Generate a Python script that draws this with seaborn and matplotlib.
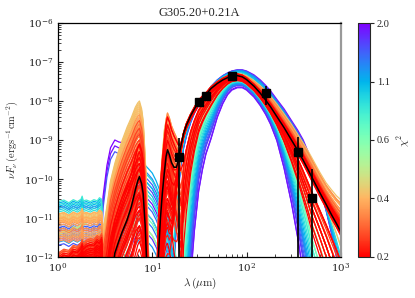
import numpy as np
import pandas as pd
import matplotlib
matplotlib.use("Agg")
import matplotlib.pyplot as plt
import seaborn as sns
from matplotlib.colors import LogNorm
from matplotlib.cm import ScalarMappable

# ---------------- wavelength grid (micron) ----------------
lam_near = [1.0, 1.15, 1.3, 1.45, 1.6, 1.75, 1.8, 1.85, 2.0, 2.2, 2.4, 2.6, 2.75, 2.9]
lam_mid = [3.0, 3.3, 3.6, 4.0, 4.4, 4.8, 5.4, 6.0, 6.6, 7.0, 7.3, 7.7, 8.0, 8.4, 8.8, 9.2,
           10.0, 11.0, 11.6, 12.2, 12.8, 13.4, 14.0, 14.5, 15.2, 16.0, 17.0, 18.0, 19.0,
           20.0, 21.5, 23.0, 25.5, 28.0]
lam_far = [31, 34, 37, 42, 49, 56, 63, 70, 80, 90, 100, 120, 140, 160, 180, 210, 250, 300,
           350, 400, 450, 500, 600, 700, 800, 900, 1000]

# ---------------- model SED templates (log10 nuFnu) ----------------
near_flat = [0.0, 0.04, -0.03, 0.05, 0.0, 0.06, 0.14, 0.02, 0.04, 0.0, 0.05, 0.02, 0.1, 0.06]
near_rise = [-0.45, -0.35, -0.38, -0.25, -0.28, -0.18, -0.1, -0.2, -0.12, -0.08, -0.1, 0.0, -0.05, 0.05]

warm_A1 = [-3.3, -2.7, -2.05, -1.6, -1.27, -1.0, -0.67, -0.42, -0.16, -0.05,
           0.0, -0.2, -0.5, -1.44, -2.5, -4.2, -6.0, -5.0, -3.3, -2.3,
           -1.4, -0.75, -0.5, -0.45, -0.65, -0.95, -1.5, -1.85, -2.2, -2.6,
           -3.1, -3.6, -4.4, -5.2]
warm_A2 = [-3.6, -3.1, -2.6, -1.96, -1.65, -1.38, -1.1, -0.75, -0.34, -0.1,
           0.0, -0.18, -0.44, -1.26, -2.5, -3.6, -5.5, -4.0, -2.0, -1.06,
           -0.41, 0.09, 0.52, 0.69, 0.56, 0.36, 0.2, 0.05, -0.2, -0.5,
           -1.0, -1.5, -2.3, -3.0]
warm_B = [-2.6, -2.2, -1.85, -1.5, -1.2, -0.95, -0.65, -0.4, -0.2, -0.1,
          -0.05, 0.0, 0.0, -0.05, -0.1, -0.15, -0.25, -0.45, -0.6, -0.75,
          -0.9, -1.05, -1.2, -1.35, -1.55, -1.8, -2.1, -2.4, -2.7, -3.0,
          -3.4, -3.8, -4.4, -5.0]
warm_C = [-2.0, -1.2, -0.75, -0.55, -0.6, -0.62, -0.6, -0.45, -0.15, -0.03,
          0.0, -0.2, -0.5, -1.44, -2.5, -4.2, -6.0, -5.0, -3.3, -2.3,
          -1.4, -0.75, -0.5, -0.45, -0.65, -0.95, -1.5, -1.85, -2.2, -2.6,
          -3.1, -3.6, -4.4, -5.2]

# cold dust templates from 14 micron to 1000 micron
cold_main = [-13.5, -13.0, -12.3, -11.6, -10.9, -10.2, -9.65, -9.25, -8.85, -8.62, -8.38, -8.2,
             -8.02, -7.92, -7.84, -7.68, -7.55, -7.46, -7.40, -7.36, -7.35, -7.38,
             -7.45, -7.62, -7.8, -7.98, -8.15, -8.4, -8.68, -9.0, -9.27, -9.52,
             -9.76, -9.98, -10.35, -10.65, -10.92, -11.14, -11.35]
cold_narrow = [-30, -30, -30, -30, -30, -30, -30, -30, -17, -15, -12.6, -11.3,
               -10.3, -9.75, -9.35, -8.95, -8.4, -8.05, -7.82, -7.7, -7.64, -7.64,
               -7.7, -7.88, -8.1, -8.33, -8.58, -9.0, -9.7, -10.6, -11.5, -12.4,
               -13.2, -14, -15, -16, -17, -18, -19]
cold_broad = [-30, -30, -30, -14, -12.5, -11.2, -10.3, -9.7, -9.2, -8.9, -8.55, -8.3,
              -8.1, -7.95, -7.83, -7.63, -7.46, -7.35, -7.28, -7.23, -7.2, -7.2,
              -7.23, -7.33, -7.46, -7.6, -7.74, -7.96, -8.2, -8.5, -8.75, -9.0,
              -9.3, -9.6, -10.2, -10.8, -11.4, -12.0, -12.6]
cold_shallow = [-14, -13.3, -12.5, -11.8, -11.0, -10.3, -9.75, -9.35, -8.95, -8.7, -8.45, -8.25,
                -8.06, -7.95, -7.86, -7.69, -7.55, -7.45, -7.39, -7.35, -7.33, -7.34,
                -7.38, -7.5, -7.63, -7.76, -7.9, -8.1, -8.35, -8.62, -8.88, -9.1,
                -9.3, -9.5, -9.85, -10.12, -10.3, -10.45, -10.55]

# models: (chi2, near-IR level, warm template, warm level, cold template, mix, cold shift)
purple_models = [
    (2.0, -11.6, 3, -8.45, 2, 1.0, 0.0), (1.9, -10.75, 3, -8.6, 1, 1.0, 0.0),
    (1.85, -11.45, 2, -10.4, 1, 1.0, -0.02), (1.75, -11.3, 2, -10.8, 1, 0.9, 0.02),
    (1.7, -11.55, 2, -11.3, 2, 0.95, -0.02), (1.6, -11.35, 2, -10.1, 1, 0.85, 0.0),
    (1.55, -11.7, 3, -8.75, 2, 0.9, 0.01),
]
blue_models = [
    (1.5, -11.25, 2, -9.9, 1, 0.8, 0.0), (1.45, -11.4, 2, -10.6, 1, 0.75, 0.01),
    (1.4, -11.2, 2, -11.0, 2, 0.85, 0.0), (1.35, -11.5, 2, -10.3, 1, 0.7, -0.02),
    (1.3, -11.3, 2, -9.75, 2, 0.7, 0.0), (1.25, -11.45, 2, -11.5, 1, 0.7, 0.02),
    (1.2, -11.62, 2, -10.0, 1, 0.65, 0.0),
]
cyan_models = [
    (1.15, -10.62, 2, -9.6, 2, 0.8, 0.0), (1.1, -10.7, 2, -10.0, 1, 0.6, 0.0),
    (1.05, -10.75, 2, -10.2, 2, 0.6, 0.01), (1.0, -10.8, 2, -10.5, 1, 0.55, 0.0),
    (0.95, -10.66, 2, -9.8, 2, 0.5, 0.0), (0.9, -10.85, 2, -10.8, 1, 0.5, -0.01),
    (0.85, -10.58, 2, -11.2, 1, 0.45, 0.0),
]
green_models = [
    (0.8, -11.7, 2, -10.3, 1, 0.45, 0.0), (0.72, -11.85, 0, -10.2, 1, 0.4, 0.0),
    (0.66, -11.6, 2, -10.9, 1, 0.4, 0.01), (0.6, -11.9, 0, -9.8, 2, 0.3, 0.0),
    (0.55, -11.0, 0, -9.2, 1, 0.3, 0.0), (0.5, -12.0, 2, -11.2, 1, 0.3, -0.01),
    (0.45, -10.97, 0, -8.9, 3, 0.5, 0.0),
]
orange_models = [
    (0.38, -10.9, 0, -8.0, 3, 1.0, 0.02), (0.378, -10.95, 0, -8.05, 1, 0.2, 0.0),
    (0.375, -11.0, 0, -8.15, 3, 0.9, 0.0), (0.372, -11.05, 0, -8.25, 3, 0.8, 0.03),
    (0.37, -10.92, 0, -8.3, 2, 0.3, 0.0), (0.36, -11.1, 0, -8.4, 3, 0.9, -0.02),
    (0.35, -11.4, 0, -8.45, 3, 0.7, 0.0), (0.345, -11.02, 1, -9.2, 1, 0.2, 0.0),
    (0.34, -11.5, 0, -8.6, 3, 0.8, 0.02), (0.335, -11.08, 0, -8.7, 3, 0.6, 0.0),
    (0.33, -11.6, 1, -9.4, 3, 0.5, -0.02), (0.325, -11.5, 0, -8.8, 3, 0.7, 0.0),
    (0.32, -11.15, 0, -8.35, 0, 0.0, 0.04), (0.31, -11.3, 1, -9.0, 3, 0.9, 0.01),
    (0.376, -10.98, 0, -8.1, 3, 0.6, 0.0), (0.368, -11.03, 0, -8.2, 1, 0.15, 0.01),
    (0.355, -10.9, 1, -9.0, 3, 0.85, 0.0), (0.348, -11.12, 0, -8.5, 3, 0.5, 0.02),
    (0.338, -11.45, 0, -8.55, 0, 0.0, 0.02), (0.33, -11.2, 1, -9.15, 1, 0.25, 0.0),
    (0.32, -11.55, 0, -8.65, 3, 0.4, -0.01), (0.305, -11.35, 0, -8.75, 3, 0.6, 0.01),
]
redorange_models = [
    (0.295, -11.5, 0, -8.6, 0, 0.0, 0.03), (0.29, -11.6, 0, -8.9, 3, 0.5, 0.0),
    (0.287, -11.7, 1, -9.3, 1, 0.15, 0.0), (0.283, -11.55, 0, -9.0, 3, 0.4, 0.02),
    (0.28, -11.8, 0, -9.2, 0, 0.0, -0.03), (0.277, -11.65, 1, -9.5, 3, 0.6, 0.0),
    (0.273, -11.75, 0, -8.8, 1, 0.2, 0.0), (0.27, -11.9, 1, -9.8, 3, 0.3, 0.01),
    (0.267, -11.6, 0, -9.4, 0, 0.0, 0.04), (0.263, -12.0, 1, -10.0, 3, 0.5, -0.02),
    (0.26, -11.7, 0, -9.6, 1, 0.1, 0.0), (0.257, -11.85, 1, -10.2, 0, 0.0, 0.0),
    (0.255, -11.45, 0, -8.5, 3, 0.3, 0.0), (0.252, -12.1, 1, -10.5, 1, 0.3, -0.03),
    (0.293, -11.62, 1, -9.25, 3, 0.45, 0.0), (0.285, -11.48, 0, -8.7, 1, 0.15, 0.02),
    (0.278, -11.72, 1, -9.6, 0, 0.0, 0.03), (0.272, -11.55, 0, -9.1, 3, 0.35, -0.01),
    (0.265, -11.92, 1, -9.9, 1, 0.2, 0.0), (0.258, -11.8, 0, -9.3, 3, 0.25, 0.0),
    (0.25, -12.02, 1, -10.35, 0, 0.0, -0.02),
]
red_models = [
    (0.245, -11.5, 0, -8.7, 0, 0.0, 0.02), (0.24, -11.8, 1, -9.6, 3, 0.3, 0.0),
    (0.24, -11.9, 0, -9.0, 1, 0.15, 0.0), (0.245, -11.6, 1, -9.9, 0, 0.0, -0.04),
    (0.245, -12.0, 0, -9.3, 3, 0.2, 0.02), (0.24, -11.7, 1, -10.3, 1, 0.1, 0.0),
    (0.24, -12.1, 0, -9.6, 0, 0.0, 0.05), (0.235, -11.95, 1, -10.6, 3, 0.4, -0.02),
    (0.235, -11.75, 0, -9.9, 0, 0.0, -0.06), (0.23, -12.2, 1, -11.0, 1, 0.2, 0.0),
    (0.23, -11.85, 0, -10.2, 0, 0.0, 0.03), (0.225, -12.3, 1, -11.4, 3, 0.2, 0.0),
    (0.225, -11.65, 0, -10.6, 0, 0.0, -0.02), (0.22, -12.05, 1, -11.8, 1, 0.1, 0.02),
    (0.22, -12.4, 0, -11.0, 0, 0.0, 0.0), (0.215, -11.8, 1, -10.8, 0, 0.0, 0.01),
    (0.215, -12.15, 0, -11.5, 3, 0.1, -0.01), (0.21, -11.9, 1, -9.1, 0, 0.0, 0.0),
    (0.21, -11.55, 0, -9.15, 1, 0.25, 0.0), (0.21, -12.0, 1, -9.45, 0, 0.0, -0.05),
    (0.205, -11.7, 0, -9.45, 3, 0.2, 0.01), (0.205, -12.25, 1, -10.05, 1, 0.3, -0.04),
    (0.2, -11.6, 0, -9.75, 0, 0.0, 0.0), (0.2, -12.35, 1, -10.45, 0, 0.0, 0.02),
    (0.2, -11.95, 0, -10.4, 1, 0.15, -0.02), (0.2, -11.75, 1, -9.1, 3, 0.15, 0.0),
    (0.2, -12.5, 0, -10.8, 0, 0.0, -0.08), (0.2, -11.85, 1, -11.2, 3, 0.3, 0.0),
    (0.242, -11.6, 1, -9.35, 0, 0.0, 0.01), (0.238, -11.72, 0, -8.85, 3, 0.25, 0.0),
    (0.243, -11.82, 1, -9.75, 1, 0.12, 0.01), (0.238, -11.68, 0, -9.15, 0, 0.0, -0.03),
    (0.233, -12.05, 1, -10.15, 3, 0.35, 0.02), (0.228, -11.9, 0, -9.45, 1, 0.2, 0.0),
    (0.224, -12.15, 1, -10.45, 0, 0.0, -0.05), (0.219, -11.78, 0, -9.75, 3, 0.15, 0.03),
    (0.216, -12.3, 1, -10.9, 1, 0.25, 0.0), (0.212, -11.62, 0, -10.05, 0, 0.0, 0.01),
    (0.208, -12.45, 1, -11.3, 0, 0.0, -0.03), (0.206, -11.88, 0, -10.35, 3, 0.3, -0.01),
    (0.203, -12.2, 1, -9.3, 1, 0.1, 0.0), (0.202, -11.7, 0, -10.7, 0, 0.0, 0.04),
    (0.201, -12.0, 1, -9.7, 3, 0.2, -0.03), (0.2, -11.95, 0, -11.2, 1, 0.35, 0.0),
    (0.2, -12.6, 1, -10.0, 0, 0.0, 0.0), (0.2, -11.8, 0, -9.6, 0, 0.0, -0.1),
    (0.2, -12.3, 1, -11.6, 3, 0.1, 0.03), (0.2, -12.1, 0, -12.0, 1, 0.2, 0.0),
]

# best fitting model (log10 nuFnu on lam_mid + lam_far)
best_fit = [-14, -13.5, -12.7, -11.9, -11.6, -11.35, -11.05, -10.7, -10.28, -10.05,
            -9.94, -10.12, -10.38, -11.2, -12.4, -13.5, -15, -13.9, -12.0, -11.0,
            -10.35, -9.85, -9.42, -9.25, -9.38, -9.58, -9.7, -9.7, -9.51, -9.18,
            -8.83, -8.62, -8.38, -8.2,
            -8.02, -7.92, -7.84, -7.68, -7.55, -7.46, -7.40, -7.36, -7.35, -7.38,
            -7.45, -7.62, -7.8, -7.98, -8.15, -8.4, -8.68, -9.0, -9.27, -9.52,
            -9.76, -9.98, -10.35, -10.65, -10.92, -11.14, -11.35]

# photometry
phot_lam = [19.4, 31.6, 37.5, 71.0, 163.0, 355.0, 500.0]
phot_flux = [3.7e-10, 9.3e-9, 1.35e-8, 4.35e-8, 1.6e-8, 4.8e-10, 3.2e-11]
phot_err = [7.3e-10, 0.0, 0.0, 0.0, 8.0e-9, 7.2e-10, 1.46e-10]

title = "G305.20+0.21A"
cbar_ticks = [0.2, 0.3557, 0.6325, 1.1247, 2.0]
cbar_labels = ["0.2", "0.4", "0.6", "1.1", "2.0"]

# ---------------- build model table ----------------
near_t = [np.array(near_flat), np.array(near_rise)]
warm_t = [np.array(warm_A1), np.array(warm_A2), np.array(warm_B), np.array(warm_C)]
cold_t = [np.array(cold_main), np.array(cold_narrow), np.array(cold_broad), np.array(cold_shallow)]
lam_all = np.array(lam_near + lam_mid + lam_far, dtype=float)
n_far = len(lam_far)
n_pad = len(lam_mid) + len(lam_far) - len(cold_main)

groups = [(purple_models, 0), (blue_models, 0), (cyan_models, 0), (green_models, 1),
          (orange_models, 0), (redorange_models, 1), (red_models, 1)]
rows = []
chis = []
k = 0
for models, nid in groups:
    for (chi2, nl, wid, wa, cid, t, dy) in models:
        nearp = near_t[nid] + nl
        warm = np.concatenate([warm_t[wid] + wa, np.full(n_far, -30.0)])
        cold = np.concatenate([np.full(n_pad, -30.0),
                               (1 - t) * cold_t[0] + t * cold_t[cid] + dy])
        midfar = np.log10(10.0 ** warm + 10.0 ** cold)
        logf = np.concatenate([nearp, midfar])
        name = f"m{k:03d}"
        rows.append(pd.DataFrame({"lam": lam_all, "flux": 10.0 ** logf, "model": name}))
        chis.append((chi2, name))
        k += 1
df = pd.concat(rows, ignore_index=True)

norm = LogNorm(vmin=0.2, vmax=2.0)
cmap = plt.get_cmap("rainbow_r")
order = [n for c, n in sorted(chis, key=lambda x: -x[0])]
pal = {n: cmap(norm(c)) for c, n in chis}

# ---------------- plot ----------------
sns.set_style("ticks")
plt.rcParams["font.family"] = "serif"
plt.rcParams["font.serif"] = ["DejaVu Serif"]
plt.rcParams["mathtext.fontset"] = "cm"

fig = plt.figure(figsize=(4.15, 2.98), dpi=100)
ax = fig.add_axes([0.140, 0.1376, 0.681, 0.7852])
ax.set_xscale("log")
ax.set_yscale("log", nonpositive="clip")

sns.lineplot(data=df, x="lam", y="flux", hue="model", hue_order=order, palette=pal,
             estimator=None, sort=False, legend=False, lw=0.9, ax=ax)

bf = pd.DataFrame({"lam": lam_mid + lam_far, "flux": 10.0 ** np.array(best_fit)})
sns.lineplot(data=bf, x="lam", y="flux", color="black", lw=1.1, estimator=None,
             sort=False, ax=ax)

ax.errorbar(phot_lam, phot_flux, yerr=phot_err, fmt="s", color="black", ms=5.2,
            elinewidth=1.2, capsize=0, zorder=10)

ax.set_xlim(1, 1000)
ax.set_ylim(1e-12, 1e-6)
ax.set_xlabel(r"$\lambda\,(\mu\mathrm{m})$", fontsize=8, labelpad=0)
ax.set_ylabel(r"$\nu F_\nu\,(\mathrm{erg s^{-1} cm^{-2}})$", fontsize=7.5, labelpad=3)
ax.set_title(title, fontsize=9, family="Liberation Serif", pad=5)
ax.tick_params(which="major", direction="in", length=3.5, width=0.8, labelsize=7.5, pad=3)
ax.tick_params(which="minor", direction="in", length=2, width=0.6)
for sp in ["left", "bottom", "top"]:
    ax.spines[sp].set_color("black")
    ax.spines[sp].set_linewidth(0.9)
ax.spines["right"].set_color("#999999")
ax.spines["right"].set_linewidth(1.6)

cax = fig.add_axes([0.8627, 0.1376, 0.0289, 0.7852])
sm = ScalarMappable(norm=norm, cmap=cmap)
cb = fig.colorbar(sm, cax=cax)
cb.set_ticks(cbar_ticks)
cb.set_ticklabels(cbar_labels)
cax.minorticks_off()
cax.tick_params(length=3, width=0.8, labelsize=7.5, pad=2)
for lab in cax.get_yticklabels():
    lab.set_family("Liberation Serif")
cb.set_label(r"$\chi^2$", fontsize=8, labelpad=4)
cb.outline.set_linewidth(0.8)

fig.savefig("out.png", dpi=100)
